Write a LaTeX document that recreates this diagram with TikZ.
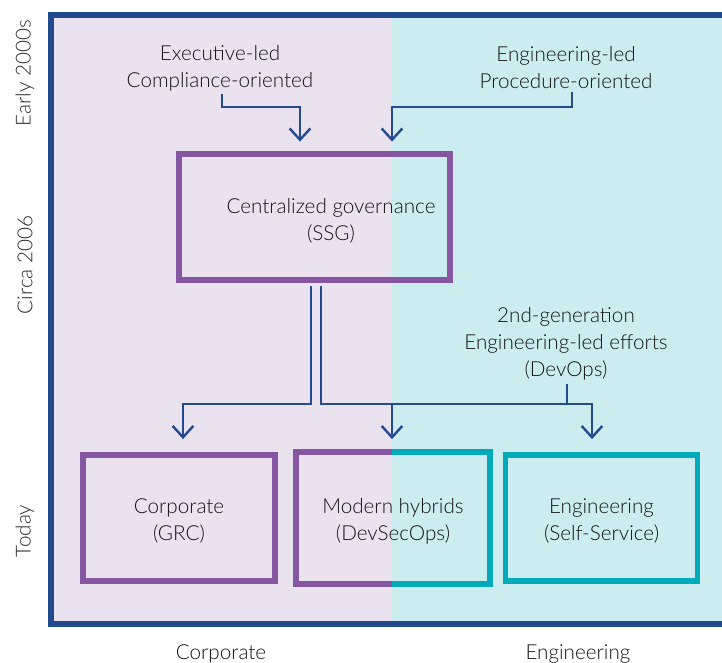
\documentclass[tikz,border=0pt]{standalone}
\usepackage{fontspec}
\setmainfont{Lato Light}
\usetikzlibrary{arrows.meta,calc}
\definecolor{frameblue}{HTML}{1F4A8E}
\definecolor{arrblue}{HTML}{234B90}
\definecolor{purp}{HTML}{8656A0}
\definecolor{tealb}{HTML}{00AAB8}
\definecolor{lav}{HTML}{EAE2EF}
\definecolor{cyanbg}{HTML}{CCEDF0}
\definecolor{txt}{HTML}{141414}
\newcommand\boxtext[2]{\raisebox{-3pt}[\height][\depth]{\begin{tabular}{@{}c@{}}#1\\#2\end{tabular}}}
\begin{document}
\begin{tikzpicture}[x=0.75pt,y=-0.75pt,
  lbl/.style={font=\fontsize{15.5}{20.25}\selectfont, text=txt, align=center, inner sep=0pt},
  box/.style={lbl, draw, line width=4.4pt, minimum height=94.5pt},
  bord/.style={line width=4.4pt},
  conn/.style={draw=arrblue, line width=1.8pt},
  arr/.style={conn, -{Straight Barb[length=8.5pt,width=15.5pt]}}]
\useasboundingbox (0,0) rectangle (722,662);
\clip (0,0) rectangle (722,662);
\fill[lav] (51,15) rectangle (392,624);
\fill[cyanbg] (392,15) rectangle (740,624);
\draw[frameblue, line width=4.5pt] (51,15) rectangle (760,624);
\coordinate (split) at (392,0);
% side and bottom labels
\node[lbl, rotate=90, text=txt!90] (early) at (25,73) {Early 2000s};
\node[lbl, rotate=90, text=txt!90] (circa) at (25,265) {Circa 2006};
\node[lbl, rotate=90, text=txt!90] (today) at (25,531) {Today};
\node[lbl] (bcorp) at (221,654) {Corporate};
\node[lbl] (beng) at (578,654) {Engineering};
% top texts
\node[lbl] (exec) at (220,68) {Executive-led\\Compliance-oriented};
\node[lbl] (eng) at (566,68) {Engineering-led\\Procedure-oriented};
\node[lbl] (devops) at (566,344) {2nd-generation\\Engineering-led efforts\\(DevOps)};
% boxes
\node[box, draw=purp, minimum width=203.25pt] (ssg) at (314.5,217) {};
\node[lbl] (ssgt) at (331,221) {Centralized governance\\(SSG)};
\node[box, draw=purp, minimum width=144pt] (corp) at (179,518) {\boxtext{Corporate}{(GRC)}};
\node[box, draw=none, minimum width=141pt] (mh) at (393,518) {\boxtext{Modern hybrids}{(DevSecOps)}};
\node[box, draw=tealb, minimum width=144pt] (engb) at (601.5,518) {\boxtext{Engineering}{(Self-Service)}};
\draw[bord, purp] (mh.north -| split) -- (mh.north west) -- (mh.south west) -- (mh.south -| split);
\draw[bord, tealb] (mh.north -| split) -- (mh.north east) -- (mh.south east) -- (mh.south -| split);
% connectors
\draw[arr] ($(exec.south)+(2,3)$) |- ($(ssg.north)+(-14.5,-44)$) -- ($(ssg.north)+(-14.5,-9.5)$);
\draw[arr] ($(eng.south)+(6,3)$) |- ($(ssg.north -| split)+(0,-44)$) -- ($(ssg.north -| split)+(0,-9.5)$);
\draw[arr] ($(ssg.south)+(-3.5,3)$) |- ($(corp.north)+(4,-48)$) -- ($(corp.north)+(4,-13)$);
\draw[arr] ($(ssg.south)+(6.5,3)$) |- ($(engb.north)+(-9.5,-48)$) -- ($(engb.north)+(-9.5,-13)$);
\draw[arr] ($(mh.north -| split)+(0,-48)$) -- ($(mh.north -| split)+(0,-13)$);
\draw[conn] ($(devops.south)+(1,3)$) -- ($(devops.south |- mh.north)+(1,-48)$);
\end{tikzpicture}
\end{document}
